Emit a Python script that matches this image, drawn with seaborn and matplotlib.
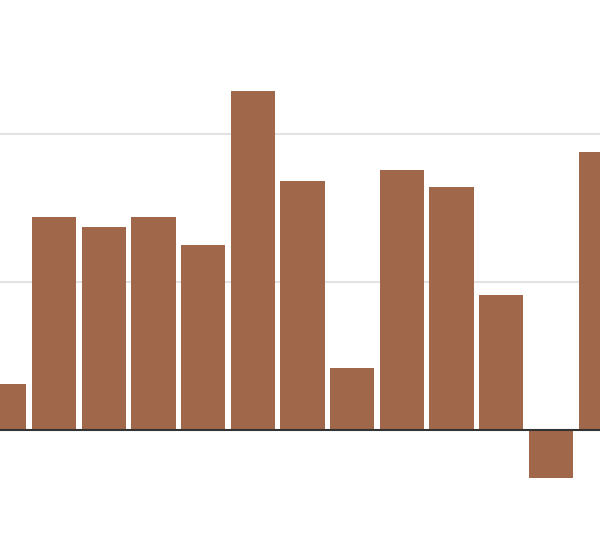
import matplotlib
matplotlib.use("Agg")
import matplotlib.pyplot as plt
import seaborn as sns
import pandas as pd

categories = ["A", "B", "C", "D", "E", "F", "G", "H", "I", "J", "K", "L", "M"]
values = [0.31, 1.44, 1.37, 1.44, 1.25, 2.29, 1.68, 0.42, 1.76, 1.64, 0.91, -0.325, 1.88]
grid_values = [1, 2]

sns.set_theme(style="white")
df = pd.DataFrame({"cat": categories, "val": values})

fig = plt.figure(figsize=(6, 5.5), dpi=100)
ax = fig.add_axes([0, 0, 1, 1])
sns.barplot(data=df, x="cat", y="val", color="#a0674a", saturation=1,
            width=0.89, edgecolor="none", ax=ax, zorder=2)
for g in grid_values:
    ax.axhline(g, color="#e3e3e3", lw=1.5, zorder=1)
ax.axhline(0, color="#333333", lw=1.5, zorder=3)

ax.set_xlim(-0.0865, 11.986)
ax.set_ylim(-120 / 148, 430 / 148)
ax.axis("off")
fig.savefig("out.png", dpi=100)
